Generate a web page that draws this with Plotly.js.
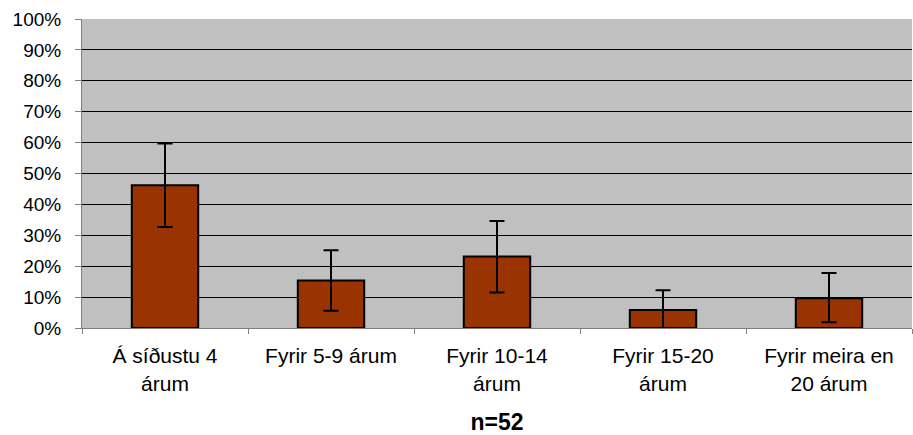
<!DOCTYPE html>
<html>
<head>
<meta charset="utf-8">
<script src="https://cdn.plot.ly/plotly-3.0.1.min.js"></script>
<style>html,body{margin:0;padding:0;background:#fff;}#chart{width:913px;height:435px;}</style>
</head>
<body>
<div id="chart"></div>
<script>
const categories = ["Á síðustu 4<br>árum", "Fyrir 5-9 árum", "Fyrir 10-14<br>árum", "Fyrir 15-20<br>árum", "Fyrir meira en<br>20 árum"];
const values = [46.2, 15.4, 23.1, 5.8, 9.6];
const errPlus = [13.5, 9.8, 11.5, 6.4, 8.2];
const errMinus = [13.5, 9.8, 11.6, 5.8, 7.7];
const yTickVals = [0, 10, 20, 30, 40, 50, 60, 70, 80, 90, 100];
const yTickText = ["0%", "10%", "20%", "30%", "40%", "50%", "60%", "70%", "80%", "90%", "100%"];
const sampleTitle = "n=52";

const trace = {
  type: "bar",
  x: categories,
  y: values,
  marker: {color: "#993300", line: {color: "#000000", width: 2}},
  error_y: {type: "data", symmetric: false, array: errPlus, arrayminus: errMinus, color: "#000000", thickness: 2, width: 7.5},
  hoverinfo: "none"
};

const layout = {
  width: 913, height: 435,
  margin: {l: 82, r: 1, t: 19, b: 107},
  paper_bgcolor: "#ffffff",
  plot_bgcolor: "#c0c0c0",
  bargap: 0.6,
  showlegend: false,
  font: {family: "Liberation Sans, Arial, sans-serif", color: "#000000"},
  xaxis: {
    type: "category",
    tickson: "boundaries",
    ticks: "outside", ticklen: 5, tickcolor: "#808080", tickwidth: 1,
    showline: true, linecolor: "#808080", linewidth: 1,
    showgrid: false, zeroline: false,
    tickfont: {size: 21, color: "#000000"},
    ticklabelstandoff: 9,
    title: {text: "<b>" + sampleTitle + "</b>", font: {size: 23, color: "#000000"}, standoff: 20},
    automargin: false
  },
  yaxis: {
    range: [0, 100],
    tickvals: yTickVals, ticktext: yTickText,
    ticks: "outside", ticklen: 6, tickcolor: "#808080", tickwidth: 1,
    showline: true, linecolor: "#808080", linewidth: 1,
    showgrid: true, gridcolor: "#000000", gridwidth: 1,
    zeroline: false,
    tickfont: {size: 19, color: "#000000"},
    ticklabelstandoff: 10,
    automargin: false
  }
};

Plotly.newPlot("chart", [trace], layout, {displayModeBar: false, staticPlot: true});
</script>
</body>
</html>
